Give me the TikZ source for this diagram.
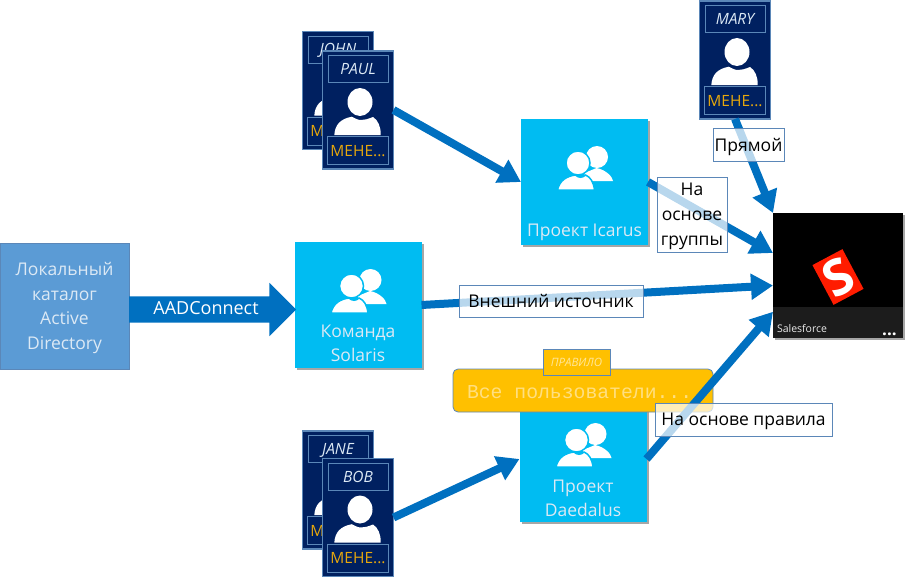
\documentclass[tikz,border=0pt]{standalone}
\usepackage{fontspec}
\setmainfont{Open Sans}
\setmonofont{Liberation Mono}
\usepackage{tikz}
\usetikzlibrary{arrows.meta,positioning,calc,shadows,shapes.arrows}

\definecolor{flowblue}{HTML}{0070C0}
\definecolor{edgeblue}{HTML}{5B87B8}
\definecolor{cardnavy}{HTML}{002060}
\definecolor{tilecyan}{HTML}{00BCF2}
\definecolor{ruleamber}{HTML}{FFC000}
\definecolor{roleamber}{HTML}{E8A80C}
\definecolor{paletext}{HTML}{DCE9F5}
\definecolor{adblue}{HTML}{5B9BD5}

\tikzset{
	every node/.style={outer sep=0pt,inner sep=0pt},
	cardbox/.style={draw=edgeblue,line width=1.2pt,fill=cardnavy,minimum width=71pt,minimum height=118pt},
	namebox/.style={draw=edgeblue,line width=0.8pt,minimum width=60pt,minimum height=27pt,text height=11pt,text depth=0pt,text=paletext,font=\fontsize{15.5}{18}\selectfont\itshape},
	rolebox/.style={draw=edgeblue,line width=0.8pt,minimum width=61pt,minimum height=28pt,text height=11pt,text depth=0pt,text=roleamber,font=\fontsize{15.5}{18}\selectfont},
	tilebox/.style={fill=tilecyan,minimum width=127pt,minimum height=126pt,drop shadow={shadow xshift=2pt,shadow yshift=-2pt,fill=black,opacity=.35}},
	tiletext/.style={text=paletext,align=center,font=\fontsize{17.5}{23.5}\selectfont},
	flowline/.style={line width=8pt,draw=flowblue,-{Triangle[length=22pt,width=25pt]}},
	tagbox/.style={draw=edgeblue,line width=0.8pt,fill=white,fill opacity=.72,draw opacity=1,text opacity=1,align=center,text depth=0pt,font=\fontsize{17.5}{25}\selectfont}
}

% one user card: name, x, y, user name
\newcommand{\usercard}[4]{
	\node [cardbox](#1) at (#2,#3) {};
	\node [namebox](#1name) at (#2,#3-41) {#4};
	\node [rolebox](#1role) at (#2,#3+40.5) {МЕНЕ...};
	\begin{scope}[shift={(#2,#3)}]
		\fill [white] (2,-8) ellipse [x radius=12.5,y radius=14];
		\fill [white] (-23.7,25) .. controls (-23,15) and (-18,9) .. (-6.3,6.7) .. controls (-3,8) and (-1,10) .. (3,10) .. controls (7,10) and (10,9) .. (15,7) .. controls (20,10) and (23,17) .. (22.7,25) -- cycle;
	\end{scope}
}

% one group tile: name, x, y, text offset, text
\newcommand{\grouptile}[5]{
	\node [tilebox](#1) at (#2,#3) {};
	\begin{scope}[shift={(#2,#3)}]
		\fill [white] (12.5,-25) circle [radius=11];
		\fill [white] (0,-9) -- (12,-14) .. controls (22,-12) and (28,-5) .. (28.5,-1) -- (0,-1) -- cycle;
		\draw [tilecyan,fill=white,line width=1.5pt] (-6.5,-19) circle [radius=12];
		\draw [tilecyan,fill=white,line width=1.5pt] (-27,8) .. controls (-25,-2) and (-17,-6) .. (-9,-7) .. controls (-6,-4) and (-2,-4) .. (1,-7) .. controls (6,-5) and (9,0) .. (10,8) -- cycle;
	\end{scope}
	\node [tiletext](#1text) at (#2,#3+#4) {#5};
}

\begin{document}
\begin{tikzpicture}[x=1pt,y=-1pt]
		\useasboundingbox (0,0) rectangle (910,578);
		% left side
		\node [draw=edgeblue,line width=1pt,fill=adblue,minimum width=129pt,minimum height=126pt,tiletext,text depth=0pt,font=\fontsize{17.5}{24.7}\selectfont](catalog) at (64.5,306) {Локальный\\каталог\\Active\\Directory};
		\grouptile{solaris}{358}{305}{38.5}{Команда\\Solaris}
		\node [single arrow,fill=flowblue,single arrow head extend=13.5pt,shape border rotate=0,minimum height=167pt,text height=14pt,text depth=5pt,inner ysep=3.5pt,inner xsep=0pt,text=white,font=\fontsize{18}{20}\selectfont](connect) at (206,309.5) {AADConnect};
		% groups
		\grouptile{icarus}{584.5}{182}{50}{Проект Icarus}
		\grouptile{daedalus}{583}{459}{39.5}{Проект\\Daedalus}
		% users
		\usercard{john}{338}{90.5}{JOHN}
		\usercard{paul}{358}{110}{PAUL}
		\usercard{jane}{338}{490}{JANE}
		\usercard{bob}{358}{517.5}{BOB}
		\usercard{mary}{735}{60}{MARY}
		% application
		\node [fill=black,minimum width=130pt,minimum height=125pt,drop shadow={shadow xshift=2pt,shadow yshift=-2pt,fill=black,opacity=.35}](app) at (838,275.5) {};
		\node [fill=black!89,minimum width=130pt,minimum height=31pt,anchor=south](appbar) at (app.south) {};
		\node [fill=red!78!orange,rotate=28,minimum width=34pt,minimum height=45pt,text=white,font=\fontsize{50}{50}\selectfont\bfseries](logo) at (838,277) {S};
		\node [text=white!92!black,anchor=west,font=\fontsize{10.5}{12}\selectfont](appname) at (777,328.5) {Salesforce};
		\node [text=white,font=\fontsize{17}{12}\selectfont\bfseries,anchor=south](appmore) at (889.5,336) {...};
		% rule
		\node [draw=edgeblue,line width=0.8pt,fill=ruleamber,rounded corners=5pt,minimum width=260pt,minimum height=43pt](rule) at (583,390.5) {};
		\node [anchor=west,text=ruleamber!50!white,font=\fontsize{19.75}{22}\selectfont\ttfamily](ruletext) at (467,392) {Все пользователи...};
		\node [draw=edgeblue,line width=1pt,fill=ruleamber,minimum width=67pt,minimum height=26pt,text=ruleamber!40!white,font=\fontsize{11.5}{14}\selectfont\itshape](ruletag) at (576.5,362) {ПРАВИЛО};
		% connectors
		\coordinate (appa) at ($(app.north west)!0.0!(app.south west)$);
		\coordinate (appb) at ($(app.north west)!0.32!(app.south west)$);
		\coordinate (appc) at ($(app.north west)!0.58!(app.south west)$);
		\coordinate (appd) at ($(app.north west)!0.79!(app.south west)$);
		\draw [flowline] (paul.east) -- (icarus.west);
		\draw [flowline] (bob.east) -- (daedalus.west);
		\draw [flowline] (mary.south) -- (appa);
		\draw [flowline] (icarus.east) -- (appb);
		\draw [flowline] (solaris.east) -- (appc);
		\draw [flowline] (daedalus.east) -- (appd);
		% connector labels
		\node [tagbox,minimum width=71pt,minimum height=33pt](direct) at (748.5,144.5) {Прямой};
		\node [tagbox,minimum width=70pt,minimum height=75pt](group) at (692,214.5) {На\\основе\\группы};
		\node [tagbox,minimum width=184pt,minimum height=32pt](external) at (551,301) {Внешний источник};
		\node [tagbox,minimum width=177pt,minimum height=33pt](byrule) at (743.5,419.5) {На основе правила};
\end{tikzpicture}
\end{document}
